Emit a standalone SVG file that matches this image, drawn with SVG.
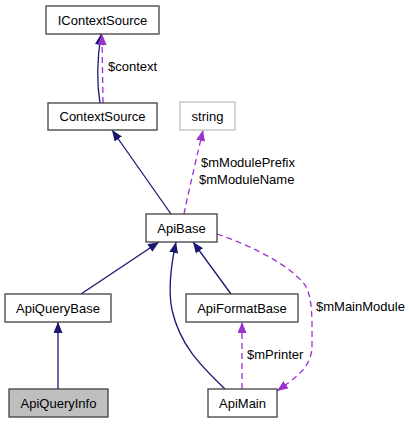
<svg xmlns="http://www.w3.org/2000/svg" width="411" height="424" viewBox="0 0 411 424">
<style>
.n rect{fill:#fff;stroke:#404040;stroke-width:1.3}
text{font-family:"Liberation Sans",Arial,sans-serif;font-size:13px;fill:#000}
.n text{text-anchor:middle}
.inh{fill:none;stroke:#191970;stroke-width:1.3}
.use{fill:none;stroke:#9a32cd;stroke-width:1.3;stroke-dasharray:6,4}
</style>
<defs>
<marker id="an" markerUnits="userSpaceOnUse" markerWidth="12" markerHeight="10" refX="11" refY="4.5" orient="auto"><path d="M0,0 L11,4.5 L0,9 z" fill="#191970"/></marker>
<marker id="ap" markerUnits="userSpaceOnUse" markerWidth="12" markerHeight="10" refX="11" refY="4.5" orient="auto"><path d="M0,0 L11,4.5 L0,9 z" fill="#9a32cd"/></marker>
</defs>
<g id="edges">
<path class="inh" d="M100,103 C97,85 97,60 101,34" marker-end="url(#an)"/>
<path class="use" d="M103,103 L102,34" marker-end="url(#ap)"/>
<path class="inh" d="M171,214 L112,130" marker-end="url(#an)"/>
<path class="use" d="M184,214 C190,185 198,152 203,130" marker-end="url(#ap)"/>
<path class="inh" d="M81,294 L159,242" marker-end="url(#an)"/>
<path class="inh" d="M225,389 C200,365 180,345 172,310 C168,290 171,265 176,242" marker-end="url(#an)"/>
<path class="inh" d="M231,294 L193,242" marker-end="url(#an)"/>
<path class="inh" d="M58,389 L58,322" marker-end="url(#an)"/>
<path class="use" d="M242,389 L242,322" marker-end="url(#ap)"/>
<path class="use" d="M217,234 C250,245 290,265 305,285 C313,298 312,320 312,345 C312,365 300,375 277,391" marker-end="url(#ap)"/>
<text x="108" y="71">$context</text>
<text x="201" y="167">$mModulePrefix</text>
<text x="199" y="184">$mModuleName</text>
<text x="247" y="359">$mPrinter</text>
<text x="316" y="311">$mMainModule</text>
</g>
<g id="IContextSource" class="n"><rect x="46" y="6" width="113" height="28"/><text x="102.5" y="24.5">IContextSource</text></g>
<g id="ContextSource" class="n"><rect x="48" y="103" width="109" height="27"/><text x="102.5" y="121">ContextSource</text></g>
<g id="string" class="n"><rect x="180" y="102" width="55" height="28" style="stroke:#bfbfbf"/><text x="207.5" y="120.5">string</text></g>
<g id="ApiBase" class="n"><rect x="146" y="214" width="71" height="28"/><text x="181.5" y="232.5">ApiBase</text></g>
<g id="ApiQueryBase" class="n"><rect x="5" y="294" width="106" height="28"/><text x="58" y="312.5">ApiQueryBase</text></g>
<g id="ApiFormatBase" class="n"><rect x="186" y="294" width="112" height="28"/><text x="242" y="312.5">ApiFormatBase</text></g>
<g id="ApiQueryInfo" class="n"><rect x="9" y="389" width="99" height="28" style="fill:#bfbfbf"/><text x="58.5" y="407.5">ApiQueryInfo</text></g>
<g id="ApiMain" class="n"><rect x="208" y="389" width="69" height="28"/><text x="242.5" y="407.5">ApiMain</text></g>
</svg>
